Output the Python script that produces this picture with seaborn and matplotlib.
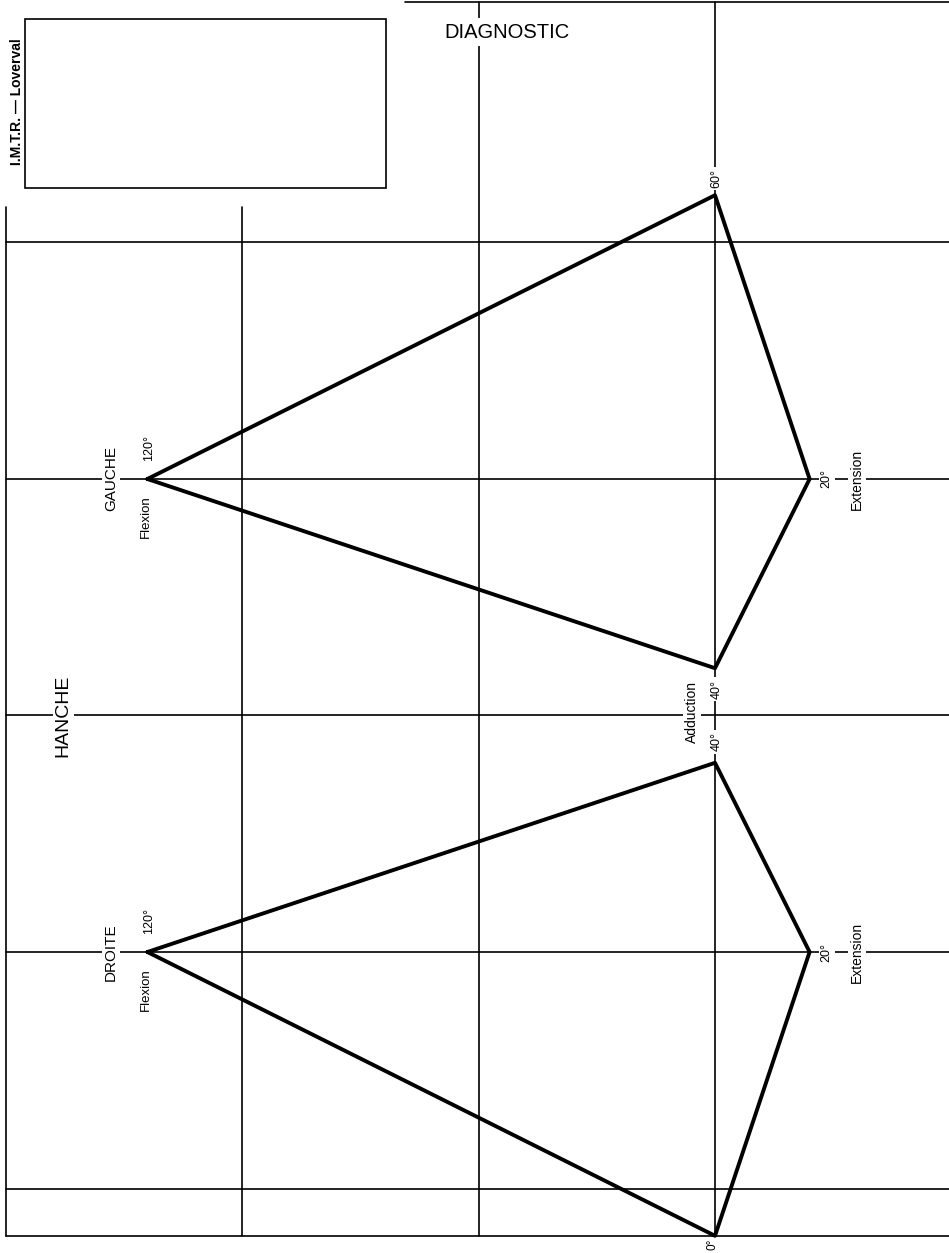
import numpy as np
import pandas as pd
import matplotlib.pyplot as plt
from matplotlib.patches import Rectangle
import seaborn as sns

# range of motion of the hip, one entry per side
sides = ['GAUCHE', 'DROITE']
centers = [0, -100]
flexion = [120, 120]
extension = [20, 20]
abduction = [60, 60]
adduction = [40, 40]
# adduction points towards the middle (HANCHE) line
adduction_dir = [-1, 1]

flexion_labels = ['120°', '120°']
extension_labels = ['20°', '20°']
abduction_labels = ['60°', '0°']
adduction_labels = ['40°', '40°']

# form grid, in degrees
px_per_deg = 4.73
x_left, x_right = -715 / px_per_deg, 234 / px_per_deg
y_top, y_bottom = 479 / px_per_deg, -774 / px_per_deg
full_vlines = [-50, 0]
short_vlines = [-150, -100]
hlines = [50, 0, -50, -100, -150, -160]


def build_polygons():
    rows = []
    for i, side in enumerate(sides):
        cy = centers[i]
        d = adduction_dir[i]
        pts = [(-flexion[i], cy),
               (0, cy - d * abduction[i]),
               (extension[i], cy),
               (0, cy + d * adduction[i]),
               (-flexion[i], cy)]
        for k, (x, y) in enumerate(pts):
            rows.append({'side': side, 'order': k, 'x': x, 'y': y})
    return pd.DataFrame(rows)


sns.set_theme(style='white')
plt.rcParams['font.family'] = ['Liberation Sans', 'DejaVu Sans']
plt.rcParams['text.color'] = 'black'

fig = plt.figure(figsize=(9.49, 12.53), dpi=100)
ax = fig.add_axes([0, 0, 1, 1])

grid_kw = dict(color='black', lw=1.2, zorder=1)
short_top = 57.5
for x in full_vlines:
    ax.plot([x, x], [100.9, -160], **grid_kw)
for x in short_vlines:
    ax.plot([x, x], [short_top, -160], **grid_kw)
for y in hlines:
    ax.plot([-149.8, x_right], [y, y], **grid_kw)
ax.plot([-65.5, x_right], [100.9, 100.9], **grid_kw)

# header box
ax.add_patch(Rectangle((-145.9, 61.5), 76.3, 35.8, fill=False,
                       ec='black', lw=1.2, zorder=1))

df = build_polygons()
sns.lineplot(data=df, x='x', y='y', units='side', estimator=None,
             sort=False, color='black', lw=2.8, ax=ax, zorder=3)
ax.set_xlim(x_left, x_right)
ax.set_ylim(y_bottom, y_top)
ax.axis('off')

box = dict(fc='white', ec='none', pad=1.5)
deg = 9
word = 10
for i, side in enumerate(sides):
    cy = centers[i]
    d = adduction_dir[i]
    ax.text(-127.7, cy, side, rotation=90, ha='center', va='center',
            fontsize=11, bbox=box, zorder=4)
    ax.text(-flexion[i] + 0.3, cy + 6.6, flexion_labels[i], rotation=90,
            ha='center', va='center', fontsize=deg, zorder=4)
    ax.text(-flexion[i] - 0.4, cy - 7.9, 'Flexion', rotation=90,
            ha='center', va='center', fontsize=9.5, zorder=4)
    ax.text(extension[i] + 3.6, cy, extension_labels[i], rotation=90,
            ha='center', va='center', fontsize=deg, bbox=box, zorder=4)
    ax.text(extension[i] + 10.0, cy, 'Extension', rotation=90,
            ha='center', va='center', fontsize=word, bbox=box, zorder=4)
    tip = cy - d * abduction[i]
    if d < 0:
        ax.text(0.3, tip + 3.6, abduction_labels[i], rotation=90,
                ha='center', va='center', fontsize=deg, bbox=box, zorder=4)
    else:
        # bottom edge of the sheet: label sits just under the line
        ax.text(-0.5, tip - 0.7, abduction_labels[i], rotation=90,
                ha='center', va='top', fontsize=8.5, zorder=4)
    ax.text(0.3, cy + d * (adduction[i] + 4.4), adduction_labels[i],
            rotation=90, ha='center', va='center', fontsize=deg,
            bbox=box, zorder=4)

ax.text(-4.9, -49.2, 'Adduction', rotation=90, ha='center', va='center',
        fontsize=word, bbox=box, zorder=4)
ax.text(-137.8, -50, 'HANCHE', rotation=90, ha='center', va='center',
        fontsize=14, bbox=box, zorder=4)
ax.text(-44.0, 94.5, 'DIAGNOSTIC', ha='center', va='center',
        fontsize=14.5, bbox=dict(fc='white', ec='none', pad=3), zorder=4)
ax.text(-147.6, 79.7, 'I.M.T.R. — Loverval', rotation=90, ha='center',
        va='center', fontsize=10, fontweight='bold', zorder=4)

fig.savefig('out.png', dpi=100, facecolor='white')
